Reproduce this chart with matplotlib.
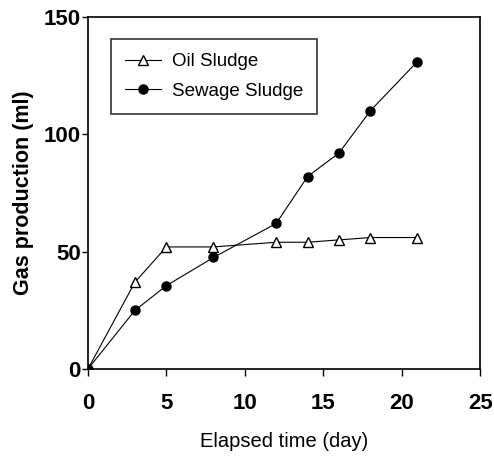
import matplotlib
matplotlib.use("Agg")
import matplotlib.pyplot as plt

days = [0, 3, 5, 8, 12, 14, 16, 18, 21]
oil_sludge = [0, 37, 52, 52, 54, 54, 55, 56, 56]
sewage_sludge = [0, 25, 35.5, 47.5, 62, 82, 92, 110, 131]
series_names = ["Oil Sludge", "Sewage Sludge"]
x_ticks = [0, 5, 10, 15, 20, 25]
y_ticks = [0, 50, 100, 150]

plt.rcParams['font.family'] = ['Liberation Sans', 'DejaVu Sans']

fig = plt.figure(figsize=(4.94, 4.57), dpi=100)
ax = fig.add_axes([0.178, 0.1926, 0.794, 0.7704])

ax.plot(days, oil_sludge, color='black', lw=0.8, marker='^', ms=7,
        mfc='white', mec='black', mew=1.0, label=series_names[0])
ax.plot(days, sewage_sludge, color='black', lw=0.8, marker='o', ms=6.5,
        mfc='black', mec='black', label=series_names[1])

ax.set_xlim(0, 25)
ax.set_ylim(0, 150)
ax.set_xticks(x_ticks)
ax.set_yticks(y_ticks)
ax.tick_params(axis='both', direction='out', labelsize=16, width=1)
ax.tick_params(axis='x', length=5, pad=12)
ax.tick_params(axis='y', length=4, pad=1)
for lab in ax.get_xticklabels() + ax.get_yticklabels():
    lab.set_fontweight('bold')
for sp in ax.spines.values():
    sp.set_linewidth(1.2)

ax.set_ylabel("Gas production (ml)", fontsize=15.5, fontweight='bold', labelpad=7)
ax.set_xlabel("Elapsed time (day)", fontsize=14.5, labelpad=13)

leg = ax.legend(loc='upper left', bbox_to_anchor=(111/494, 1 - 39/457),
                bbox_transform=fig.transFigure, borderaxespad=0,
                fontsize=13.5, frameon=True,
                fancybox=False, edgecolor='black', borderpad=0.75,
                handlelength=1.9, handletextpad=0.6, labelspacing=0.65)
leg.get_frame().set_linewidth(1.2)

fig.savefig("out.png", dpi=100)
